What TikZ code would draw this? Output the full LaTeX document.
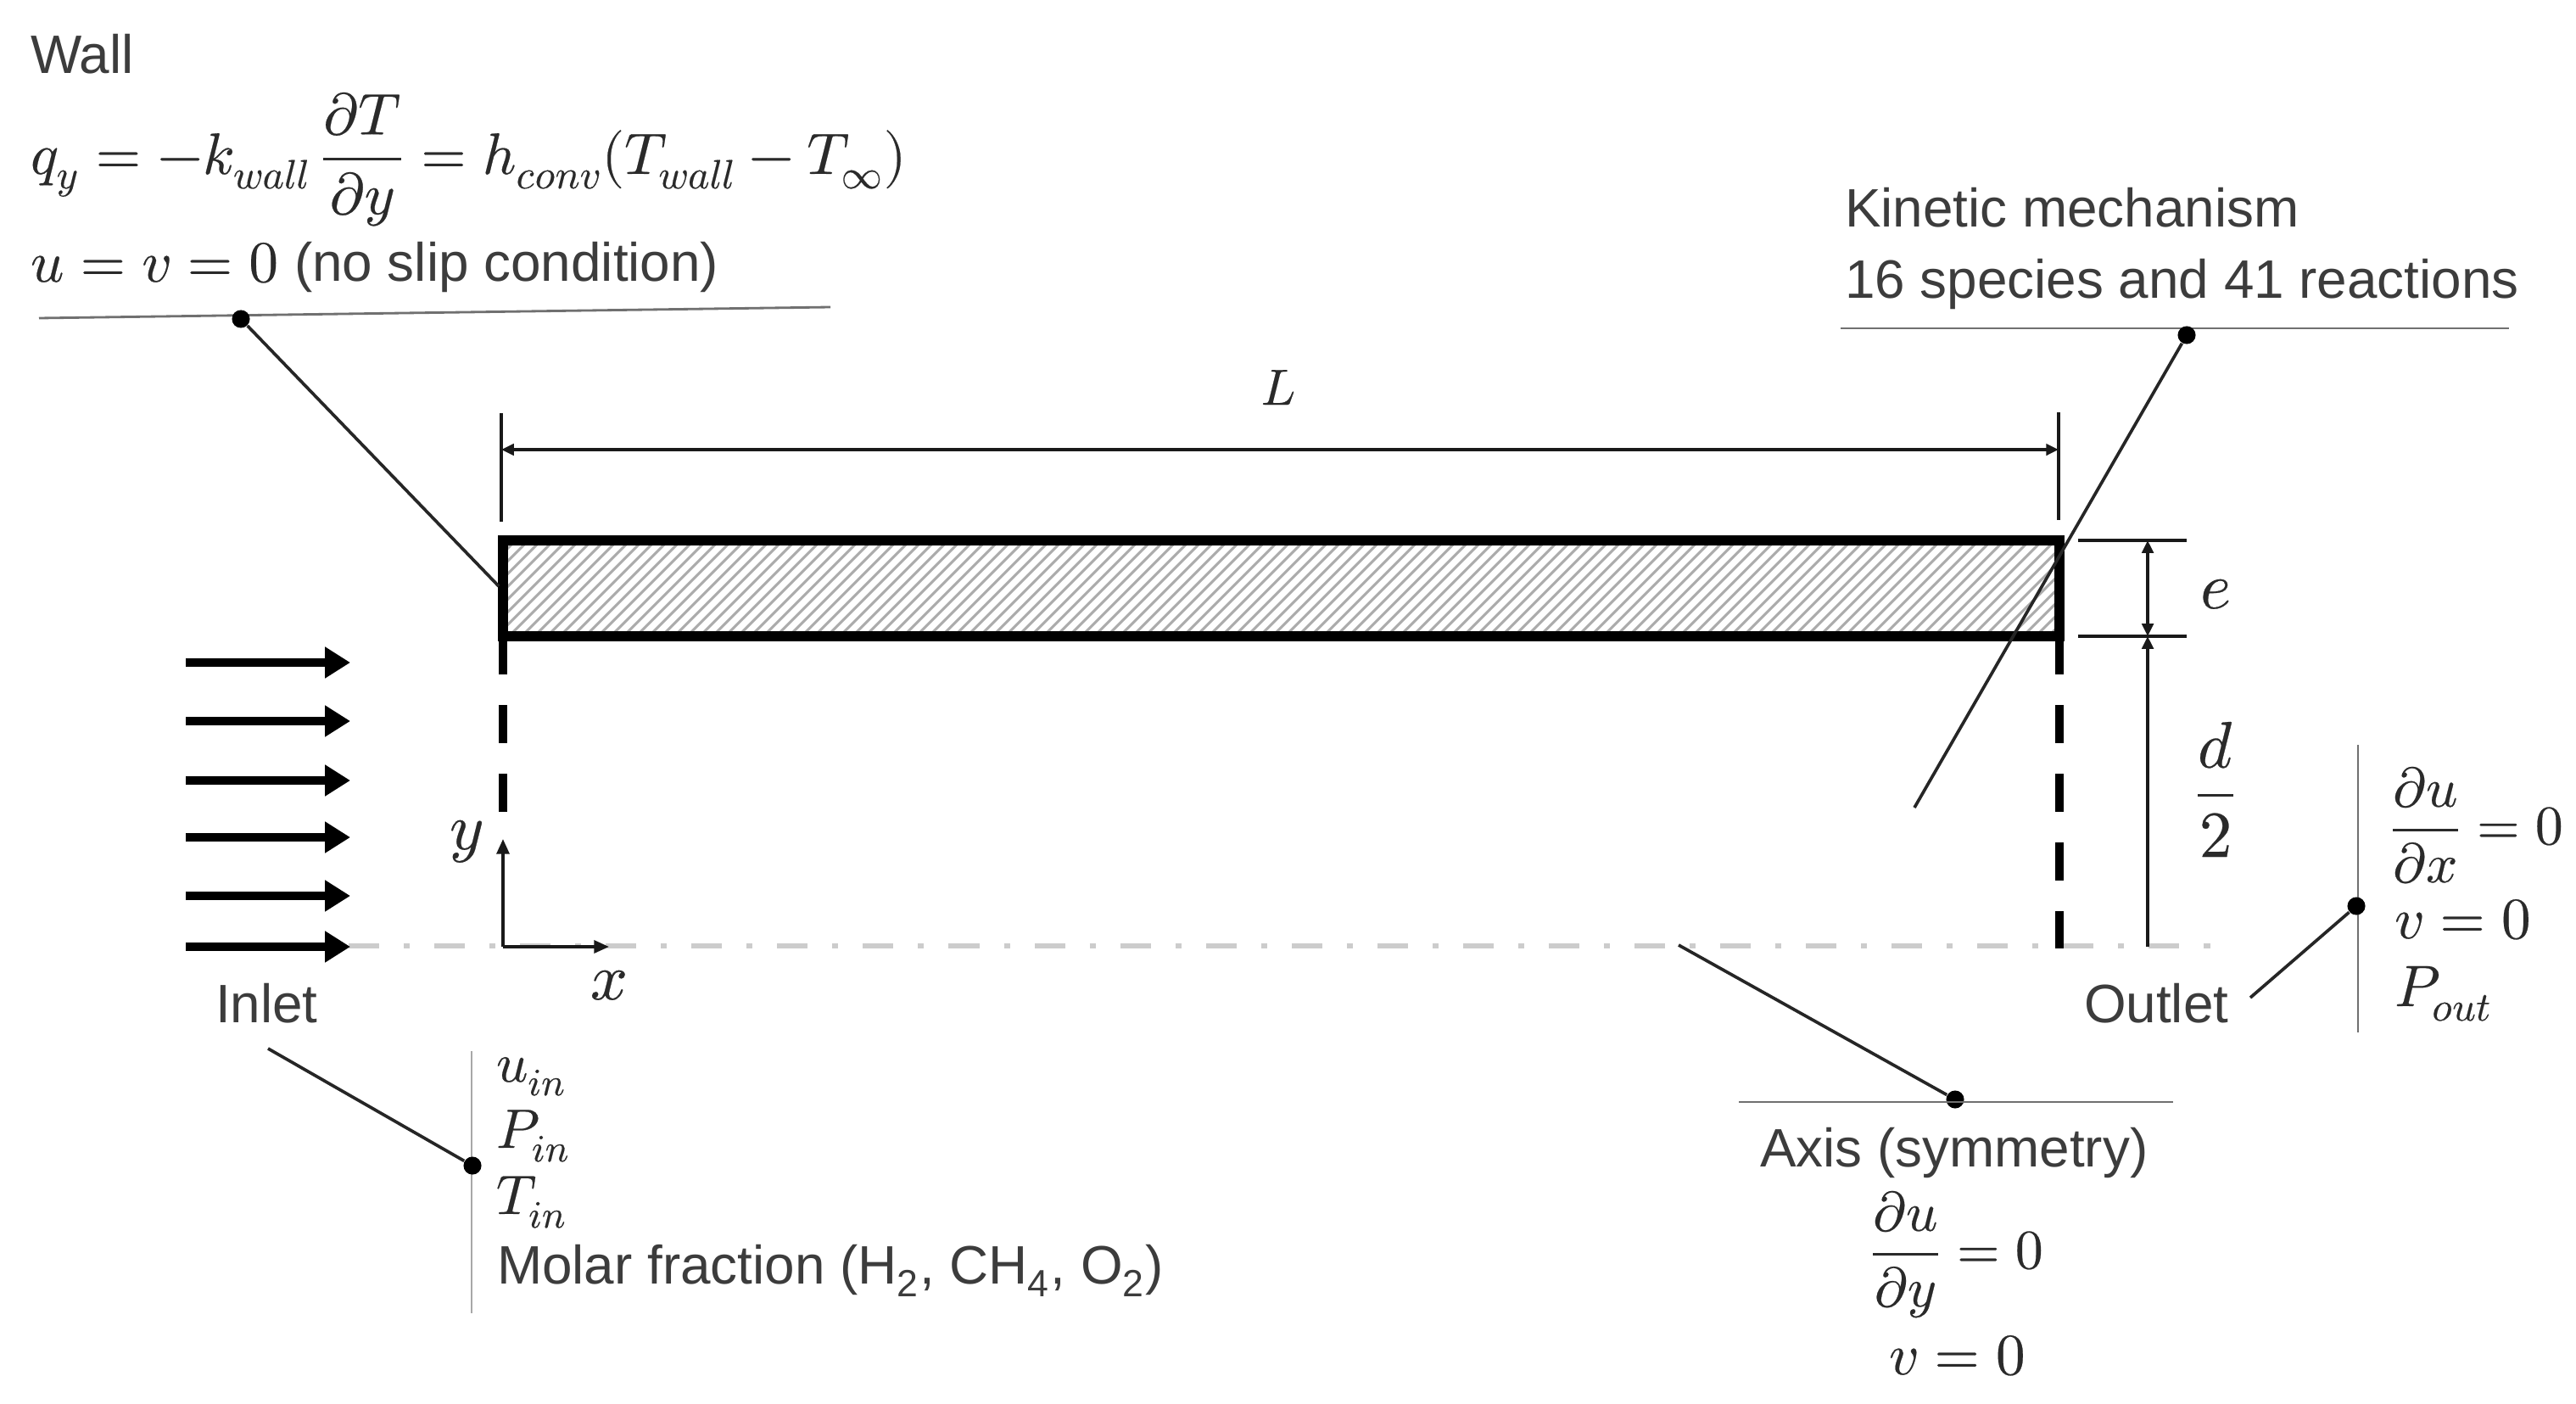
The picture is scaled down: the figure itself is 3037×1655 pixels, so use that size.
\documentclass[tikz,border=0pt]{standalone}
\usepackage{amsmath}
\usepackage{fontspec}
\usepackage{unicode-math}
\setmainfont{Liberation Sans}
\setmathfont{Latin Modern Math}[FakeBold=0.35]
\usetikzlibrary{arrows.meta}
\definecolor{ink}{HTML}{2A2A2A}
\definecolor{txtink}{HTML}{3C3C3C}
\definecolor{axisgray}{HTML}{CCCCCC}
\definecolor{rulegray}{HTML}{707070}
\definecolor{rulelight}{HTML}{A8A8A8}
\definecolor{hatchgray}{HTML}{ABABAB}
\tikzset{
  x=0.01cm,y=-0.01cm,
  lbl/.style={anchor=base west,inner sep=0pt,outer sep=0pt,text=txtink,font=\fontsize{18.15}{22}\selectfont},
  mth/.style={anchor=base west,inner sep=0pt,outer sep=0pt,text=ink,font=\fontsize{19.6}{24}\selectfont},
  mthb/.style={mth,font=\fontsize{18.6}{23}\selectfont},
  mthc/.style={mth,anchor=base},
  mthl/.style={mthc,font=\fontsize{22}{26}\selectfont},
  dotn/.style={circle,fill=black,draw=none,minimum size=6pt,inner sep=0pt},
  leader/.style={draw=black!85,line width=1.05pt},
  rulem/.style={draw=rulegray,line width=0.8pt},
  rulel/.style={draw=rulelight,line width=0.6pt},
  wallline/.style={draw=black,line width=3.2pt},
  wallside/.style={draw=black,line width=3pt,dash pattern=on 12.8pt off 10.24pt},
  dimn/.style={draw=black!90,line width=1pt},
  inflow/.style={draw=black,line width=2.9pt,-{Triangle[length=8.5pt,width=10pt]}},
  hatchl/.style={draw=hatchgray,line width=0.85pt},
  symaxis/.style={draw=axisgray,line width=1.7pt,dash pattern=on 10.24pt off 8.25pt on 2pt off 8.25pt}
}
\begin{document}
\begin{tikzpicture}
\useasboundingbox (0,0) rectangle (3037,1655);
% symmetry axis
\coordinate (axA) at (411,1115);
\coordinate (axB) at (2618,1115);
\draw[symaxis] (axA) -- (axB);
% hatching
\coordinate (barTL) at (593,637);
\coordinate (barBR) at (2428,750);
\begin{scope}
\clip (barTL) rectangle (barBR);
\foreach \hx in {480,495,...,2430}{
  \draw[hatchl] (\hx,750) -- ++(113,-113);
}
\end{scope}
% wall
\coordinate (barTR) at (2428,637);
\coordinate (barBL) at (593,750);
\draw[wallline,line cap=rect] (barBL) -- (barTL) -- (barTR) -- (barBR);
\draw[wallline] (barBL) -- (barBR);
\coordinate (leftEnd) at (593,960);
\coordinate (rightEnd) at (2428,1118);
\draw[wallside] (barBL) -- (leftEnd);
\draw[wallside] (barBR) -- (rightEnd);
% inlet arrows
\foreach \iy/\nm in {781/a,850/b,920/c,987/d,1056/e,1116/f}{
  \coordinate (in\nm A) at (219,\iy);
  \coordinate (in\nm B) at (413,\iy);
  \draw[inflow] (in\nm A) -- (in\nm B);
}
% coordinate axes
\coordinate (orig) at (593,1116);
\coordinate (yTip) at (593,989);
\coordinate (xTip) at (718,1116);
\draw[dimn,-{Triangle[length=5pt,width=4.2pt]}] (orig) -- (yTip);
\draw[dimn,-{Triangle[length=5pt,width=4.2pt]}] (orig) -- (xTip);
\node[mthl] (ylab) at (550,1001) {$y$};
\node[mthl] (xlab) at (718,1178) {$x$};
% L dimension
\coordinate (tickLA) at (591,487);
\coordinate (tickLB) at (591,615);
\coordinate (tickRA) at (2427,486);
\coordinate (tickRB) at (2427,613);
\draw[dimn] (tickLA) -- (tickLB);
\draw[dimn] (tickRA) -- (tickRB);
\coordinate (dimLA) at (591,530);
\coordinate (dimLB) at (2427,530);
\draw[dimn,{Triangle[length=4.2pt,width=3.8pt]}-{Triangle[length=4.2pt,width=3.8pt]}] (dimLA) -- (dimLB);
\node[mthc,font=\fontsize{17}{20}\selectfont] (Llab) at (1507,477) {$L$};
% e and d/2 dimensions
\coordinate (eTA) at (2450,637);
\coordinate (eTB) at (2578,637);
\coordinate (eBA) at (2450,750);
\coordinate (eBB) at (2578,750);
\draw[dimn] (eTA) -- (eTB);
\draw[dimn] (eBA) -- (eBB);
\coordinate (eA) at (2532,637);
\coordinate (eB) at (2532,750);
\coordinate (dB) at (2532,1116);
\draw[dimn,{Triangle[length=4.2pt,width=3.8pt]}-{Triangle[length=4.2pt,width=3.8pt]}] (eA) -- (eB);
\draw[dimn,-{Triangle[length=4.2pt,width=3.8pt]}] (dB) -- (eB);
\node[mthl] (elab) at (2612,717) {$e$};
\node[mthl] (dlab) at (2612,957) {$\dfrac{d}{2}$};
% Wall block
\node[lbl] (wall) at (36,87) {Wall};
\node[mth] (walleq) at (36,205) {$q_y=-k_{wall}\,\dfrac{\partial T}{\partial y}=h_{conv}(T_{wall}-T_\infty)$};
\node[mth] (wallbc) at (36,332) {$u=v=0$\;\fontsize{18.15}{22}\selectfont\color{txtink}(no slip condition)};
\coordinate (wallRA) at (46,375);
\coordinate (wallRB) at (979,362);
\draw[rulem] (wallRA) -- (wallRB);
\node[dotn] (walldot) at (284,376) {};
\coordinate (wallTo) at (588,691);
\draw[leader] (walldot) -- (wallTo);
% Kinetic block
\node[lbl] (kin1) at (2175,268) {Kinetic mechanism};
\node[lbl] (kin2) at (2175,352) {16 species and 41 reactions};
\coordinate (kinRA) at (2170,387);
\coordinate (kinRB) at (2958,387);
\draw[rulem] (kinRA) -- (kinRB);
\node[dotn] (kindot) at (2578,395) {};
\coordinate (kinTo) at (2257,952);
\draw[leader] (kindot) -- (kinTo);
% Inlet block
\node[lbl] (inlet) at (254,1205) {Inlet};
\coordinate (inRA) at (556,1239);
\coordinate (inRB) at (556,1548);
\draw[rulel] (inRA) -- (inRB);
\node[dotn] (indot) at (557,1374) {};
\coordinate (inFrom) at (316,1236);
\draw[leader] (inFrom) -- (indot);
\node[mthb] (uin) at (585,1275) {$u_{in}$};
\node[mthb] (pin) at (585,1353) {$P_{in}$};
\node[mthb] (tin) at (585,1431) {$T_{in}$};
\node[lbl] (molar) at (586,1513) {Molar fraction (H\textsubscript{2}, CH\textsubscript{4}, O\textsubscript{2})};
% Axis block
\coordinate (axFrom) at (1979,1114);
\node[dotn] (axdot) at (2305,1296) {};
\draw[leader] (axFrom) -- (axdot);
\coordinate (axRA) at (2050,1299);
\coordinate (axRB) at (2562,1299);
\draw[rulem] (axRA) -- (axRB);
\node[lbl] (axis) at (2075,1375) {Axis (symmetry)};
\node[mthb] (axeq) at (2204,1495) {$\dfrac{\partial u}{\partial y}=0$};
\node[mth] (axv) at (2227,1620) {$v=0$};
% Outlet block
\node[lbl] (outlet) at (2457,1205) {Outlet};
\coordinate (outRA) at (2780,878);
\coordinate (outRB) at (2780,1217);
\draw[rulem] (outRA) -- (outRB);
\node[dotn] (outdot) at (2778,1068) {};
\coordinate (outFrom) at (2653,1176);
\draw[leader] (outFrom) -- (outdot);
\node[mthb] (outeq) at (2817,995) {$\dfrac{\partial u}{\partial x}=0$};
\node[mth] (outv) at (2823,1106) {$v=0$};
\node[mth] (pout) at (2823,1186) {$P_{out}$};
\end{tikzpicture}
\end{document}
